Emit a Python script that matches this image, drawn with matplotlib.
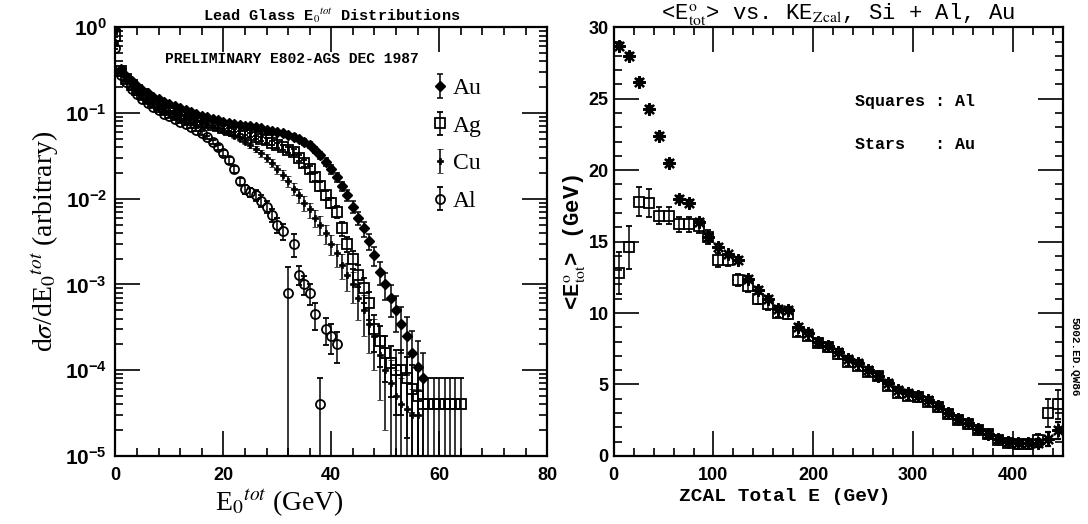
import matplotlib
matplotlib.use("Agg")
import matplotlib.pyplot as plt
from matplotlib.ticker import MultipleLocator, LogLocator, NullFormatter
import numpy as np

plt.rcParams['mathtext.fontset'] = 'stix'
plt.rcParams['font.family'] = ['Liberation Sans', 'DejaVu Sans']

# ---------------- left panel: lead glass E0tot spectra ----------------
au_e = list(range(0, 58))
au_y = [0.95, 0.33, 0.27, 0.235, 0.205, 0.185, 0.17, 0.155, 0.145, 0.135,
        0.127, 0.12, 0.113, 0.107, 0.102, 0.097, 0.093, 0.089, 0.085, 0.082,
        0.079, 0.077, 0.075, 0.073, 0.071, 0.07, 0.068, 0.066, 0.064, 0.062,
        0.06, 0.058, 0.056, 0.053, 0.05, 0.046, 0.042, 0.037, 0.032, 0.027,
        0.022, 0.018, 0.014, 0.011, 0.008, 0.006, 0.0045, 0.0032, 0.0022, 0.0014,
        0.001, 0.0007, 0.0005, 0.00035, 0.00025, 0.00016, 0.00011, 0.00008]
au_rel = [0.02, 0.02, 0.02, 0.02, 0.02, 0.02, 0.02, 0.02, 0.02, 0.02,
          0.02, 0.02, 0.02, 0.02, 0.02, 0.02, 0.03, 0.03, 0.03, 0.03,
          0.03, 0.03, 0.03, 0.03, 0.03, 0.03, 0.04, 0.04, 0.04, 0.04,
          0.05, 0.05, 0.05, 0.06, 0.06, 0.07, 0.08, 0.08, 0.09, 0.10,
          0.11, 0.12, 0.13, 0.15, 0.16, 0.18, 0.20, 0.22, 0.25, 0.30,
          0.35, 0.40, 0.45, 0.55, 0.65, 0.80, 1.0, 1.0]

ag_e = list(range(0, 65))
ag_y = [0.80, 0.31, 0.25, 0.21, 0.185, 0.165, 0.15, 0.135, 0.125, 0.117,
        0.11, 0.103, 0.097, 0.092, 0.087, 0.083, 0.079, 0.076, 0.073, 0.07,
        0.067, 0.064, 0.062, 0.06, 0.058, 0.055, 0.052, 0.05, 0.048, 0.045,
        0.042, 0.04, 0.037, 0.035, 0.03, 0.026, 0.022, 0.018, 0.014, 0.011,
        0.009, 0.007, 0.0045, 0.003, 0.002, 0.0013, 0.0009, 0.0006, 0.0003, 0.00022,
        0.00016, 0.00012, 0.0001, 0.0001, 8e-5, 6e-5, 5e-5, 4e-5, 4e-5, 4e-5,
        4e-5, 4e-5, 4e-5, 4e-5, 4e-5]
ag_rel = [0.03, 0.03, 0.03, 0.03, 0.03, 0.03, 0.03, 0.03, 0.03, 0.03,
          0.03, 0.03, 0.03, 0.03, 0.03, 0.03, 0.03, 0.03, 0.04, 0.04,
          0.04, 0.04, 0.04, 0.04, 0.05, 0.05, 0.05, 0.05, 0.06, 0.06,
          0.06, 0.07, 0.07, 0.08, 0.08, 0.09, 0.10, 0.10, 0.11, 0.12,
          0.14, 0.16, 0.18, 0.20, 0.24, 0.28, 0.32, 0.36, 0.45, 0.50,
          0.55, 0.60, 0.70, 0.70, 0.80, 0.90, 1.0, 1.0, 1.0, 1.0,
          1.0, 1.0, 1.0, 1.0, 1.0]

cu_e = list(range(0, 57))
cu_y = [0.68, 0.30, 0.245, 0.205, 0.18, 0.16, 0.145, 0.132, 0.122, 0.113,
        0.106, 0.10, 0.094, 0.089, 0.084, 0.08, 0.076, 0.072, 0.069, 0.066,
        0.062, 0.058, 0.054, 0.05, 0.046, 0.042, 0.038, 0.034, 0.03, 0.026,
        0.022, 0.019, 0.016, 0.013, 0.011, 0.009, 0.0075, 0.006, 0.005, 0.004,
        0.003, 0.0023, 0.0017, 0.0013, 0.001, 0.0007, 0.0005, 0.00035, 0.00025, 0.00015,
        0.0001, 7e-5, 5e-5, 4e-5, 3.5e-5, 3e-5, 3e-5]
cu_rel = [0.03, 0.03, 0.03, 0.03, 0.03, 0.03, 0.03, 0.03, 0.03, 0.03,
          0.03, 0.03, 0.03, 0.03, 0.03, 0.03, 0.04, 0.04, 0.04, 0.04,
          0.05, 0.05, 0.05, 0.06, 0.06, 0.07, 0.08, 0.09, 0.10, 0.11,
          0.12, 0.14, 0.15, 0.16, 0.18, 0.20, 0.20, 0.22, 0.24, 0.25,
          0.27, 0.30, 0.32, 0.35, 0.40, 0.45, 0.50, 0.55, 0.60, 0.70,
          0.80, 0.90, 1.0, 1.0, 1.0, 1.0, 1.0]

al_e = list(range(0, 42))
al_y = [0.58, 0.28, 0.23, 0.19, 0.165, 0.145, 0.13, 0.117, 0.107, 0.098,
        0.091, 0.085, 0.079, 0.074, 0.069, 0.064, 0.058, 0.052, 0.046, 0.04,
        0.034, 0.028, 0.022, 0.016, 0.013, 0.012, 0.011, 0.0095, 0.008, 0.0065,
        0.005, 0.0042, 0.0008, 0.003, 0.0013, 0.001, 0.0008, 0.00045, 0.00004, 0.0003,
        0.00025, 0.0002]
al_rel = [0.03, 0.03, 0.03, 0.03, 0.03, 0.03, 0.03, 0.03, 0.03, 0.03,
          0.03, 0.03, 0.03, 0.03, 0.04, 0.04, 0.05, 0.05, 0.06, 0.07,
          0.08, 0.09, 0.10, 0.10, 0.12, 0.12, 0.14, 0.15, 0.16, 0.18,
          0.20, 0.22, 1.0, 0.30, 0.25, 0.25, 0.28, 0.35, 1.0, 0.35,
          0.38, 0.40]

# ---------------- right panel: <E0tot> vs ZCAL total E ----------------
zcal_e = [5, 15, 25, 35, 45, 55, 65, 75, 85, 95,
          105, 115, 125, 135, 145, 155, 165, 175, 185, 195,
          205, 215, 225, 235, 245, 255, 265, 275, 285, 295,
          305, 315, 325, 335, 345, 355, 365, 375, 385, 395,
          405, 415, 425, 435, 445]
al_mean = [12.8, 14.6, 17.8, 17.7, 16.8, 16.8, 16.2, 16.2, 16.1, 15.3,
           13.7, 13.7, 12.3, 11.9, 11.0, 10.6, 10.0, 9.9, 8.7, 8.4,
           7.9, 7.6, 7.1, 6.6, 6.3, 5.9, 5.6, 4.9, 4.4, 4.2,
           4.1, 3.8, 3.4, 2.9, 2.5, 2.2, 1.8, 1.5, 1.1, 0.9,
           0.8, 0.8, 1.1, 3.0, 3.6]
al_mean_err = [1.5, 1.5, 1.0, 1.0, 0.6, 0.6, 0.5, 0.5, 0.5, 0.5,
               0.5, 0.4, 0.4, 0.4, 0.4, 0.4, 0.3, 0.3, 0.3, 0.3,
               0.3, 0.3, 0.3, 0.3, 0.3, 0.3, 0.3, 0.3, 0.3, 0.3,
               0.3, 0.3, 0.3, 0.3, 0.3, 0.3, 0.3, 0.3, 0.3, 0.3,
               0.3, 0.3, 0.4, 1.0, 1.0]
au_mean = [28.7, 28.0, 26.2, 24.3, 22.4, 20.5, 18.0, 17.7, 16.4, 15.3,
           14.6, 14.1, 13.7, 12.4, 11.6, 11.0, 10.3, 10.2, 9.0, 8.6,
           8.0, 7.7, 7.3, 6.8, 6.5, 6.0, 5.6, 5.1, 4.6, 4.4,
           4.2, 3.9, 3.5, 3.0, 2.6, 2.3, 1.9, 1.5, 1.2, 1.0,
           0.9, 0.9, 0.9, 1.2, 1.8]
au_mean_err = [0.2, 0.2, 0.2, 0.2, 0.2, 0.2, 0.2, 0.2, 0.2, 0.2,
               0.2, 0.2, 0.2, 0.2, 0.2, 0.2, 0.2, 0.2, 0.2, 0.2,
               0.2, 0.2, 0.2, 0.2, 0.2, 0.2, 0.2, 0.2, 0.2, 0.2,
               0.2, 0.2, 0.2, 0.2, 0.2, 0.2, 0.2, 0.2, 0.2, 0.2,
               0.2, 0.2, 0.3, 0.5, 0.6]


def log_err(y, rel):
    y = np.array(y)
    rel = np.array(rel)
    hi = y * rel
    lo = np.minimum(y * rel, y - 1e-7)
    return [lo, hi]


fig = plt.figure(figsize=(10.88, 5.24), dpi=100)
ax1 = fig.add_axes([0.106, 0.130, 0.397, 0.818])
ax2 = fig.add_axes([0.564, 0.130, 0.413, 0.818])

serif = ['Liberation Serif', 'DejaVu Serif']
mono = ['Liberation Mono', 'DejaVu Sans Mono']

ebkw = dict(ls='none', color='black', ecolor='black', elinewidth=1.1,
            capsize=2.5, capthick=1.1)
h_au = ax1.errorbar(au_e, au_y, yerr=log_err(au_y, au_rel), marker='D',
                    ms=5.5, mfc='black', mec='black', **ebkw)
h_ag = ax1.errorbar(ag_e, ag_y, yerr=log_err(ag_y, ag_rel), marker='s',
                    ms=6.5, mfc='none', mec='black', mew=1.3, **ebkw)
h_cu = ax1.errorbar(cu_e, cu_y, yerr=log_err(cu_y, cu_rel), marker='P',
                    ms=5, mfc='black', mec='black', mew=0.5, **ebkw)
h_al = ax1.errorbar(al_e, al_y, yerr=log_err(al_y, al_rel), marker='o',
                    ms=6.5, mfc='none', mec='black', mew=1.3, **ebkw)

ax1.set_yscale('log')
ax1.set_xlim(0, 80)
ax1.set_ylim(1e-5, 1)
ax1.xaxis.set_major_locator(MultipleLocator(20))
ax1.xaxis.set_minor_locator(MultipleLocator(4))
ax1.yaxis.set_major_locator(LogLocator(base=10, numticks=10))
ax1.yaxis.set_minor_locator(LogLocator(base=10, subs=np.arange(2, 10), numticks=20))
ax1.yaxis.set_minor_formatter(NullFormatter())

ax1.set_title(r'Lead Glass E$_0$$^{tot}$ Distributions', family=mono,
              fontsize=11, fontweight='bold', pad=5)
ax1.set_xlabel(r'E$_0$$^{tot}$ (GeV)', family=serif, fontsize=20)
ax1.xaxis.set_label_coords(0.38, -0.072)
ax1.set_ylabel(r'd$\sigma$/dE$_0$$^{tot}$ (arbitrary)', family=serif,
               fontsize=20, labelpad=2)
ax1.text(0.115, 0.925, 'PRELIMINARY E802-AGS DEC 1987', transform=ax1.transAxes,
         family=mono, fontsize=10.5, fontweight='bold', ha='left', va='center')
ax1.legend([h_au, h_ag, h_cu, h_al], ['Au', 'Ag', 'Cu', 'Al'], loc='upper right',
           bbox_to_anchor=(0.875, 0.91), frameon=False, handlelength=0.6,
           handletextpad=0.25, labelspacing=0.68, borderpad=0, numpoints=1,
           prop=dict(family=serif, size=17))

# right panel
ax2.errorbar(zcal_e, al_mean, yerr=al_mean_err, marker='s', ms=7.5, mfc='none',
             mec='black', mew=1.3, **ebkw)
ax2.errorbar(zcal_e, au_mean, yerr=au_mean_err, marker=(8, 2, 0), ms=9,
             mec='black', mew=1.6, **ebkw)
ax2.set_xlim(0, 450)
ax2.set_ylim(0, 30)
ax2.xaxis.set_major_locator(MultipleLocator(100))
ax2.xaxis.set_minor_locator(MultipleLocator(20))
ax2.yaxis.set_major_locator(MultipleLocator(5))
ax2.yaxis.set_minor_locator(MultipleLocator(1))
ax2.set_title(r'<E$^{\rm o}_{\rm tot}$> vs. KE$_{\rm Zcal}$, Si + Al, Au',
              family=mono, fontsize=16, pad=3)
ax2.set_xlabel('ZCAL Total E (GeV)', family=mono, fontsize=14,
               fontweight='bold')
ax2.xaxis.set_label_coords(0.38, -0.075)
ax2.set_ylabel(r'<E$^{\rm o}_{\rm tot}$> (GeV)', family=mono, fontsize=16,
               fontweight='bold', labelpad=1)
ax2.text(242, 24.8, 'Squares : Al', family=mono, fontsize=12,
         fontweight='bold', va='center')
ax2.text(242, 21.8, 'Stars   : Au', family=mono, fontsize=12,
         fontweight='bold', va='center')
fig.text(0.988, 0.32, '5002.ED.QW86', rotation=-90, family=mono, fontsize=8,
         fontweight='bold', ha='center', va='center')

for ax in (ax1, ax2):
    ax.tick_params(which='both', direction='in', top=True, right=True,
                   width=1.2, labelsize=13)
    ax.tick_params(which='major', length=18)
    ax.tick_params(which='minor', length=6)
    for s in ax.spines.values():
        s.set_linewidth(1.6)
    for lab in ax.get_xticklabels() + ax.get_yticklabels():
        lab.set_fontweight('bold')
ax1.tick_params(axis='y', labelsize=15, pad=6)
ax1.tick_params(axis='x', pad=8)
ax2.tick_params(axis='x', pad=8)

fig.savefig('out.png', dpi=100)
